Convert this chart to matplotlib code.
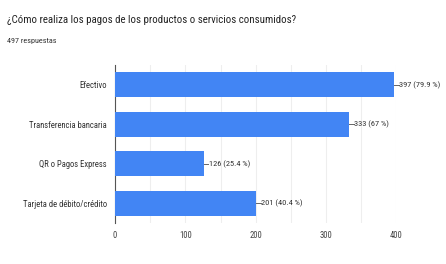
import matplotlib
matplotlib.use('Agg')
from matplotlib import pyplot as plt

plt.rcParams['font.family'] = ['Roboto Condensed', 'Archivo Narrow', 'DejaVu Sans']

# datos
categorias = ['Efectivo', 'Transferencia bancaria', 'QR o Pagos Express', 'Tarjeta de débito/crédito']
valores = [397, 333, 126, 201]
porcentajes = ['79.9', '67', '25.4', '40.4']
total = 497
ticks_x = [0, 100, 200, 300, 400]

fig = plt.figure(figsize=(4.46, 2.64), dpi=100)
ax = fig.add_axes([0.258, 0.155, 0.631, 0.599])

pos = list(range(len(categorias)))
ax.barh(pos, valores, height=0.625, color='#4285F4', zorder=3)

for p, v, pc in zip(pos, valores, porcentajes):
    ax.plot([v, v + 6], [p, p], color='#666666', lw=0.7, zorder=3, clip_on=False)
    ax.text(v + 7, p, f'{v} ({pc} %)', va='center', ha='left', fontsize=6,
            color='#333333', clip_on=False)

ax.set_xlim(0, 400)
ax.set_ylim(3.5, -0.5)
ax.set_yticks(pos)
ax.set_yticklabels(categorias, fontsize=6.2, color='#333333')
ax.set_xticks(ticks_x)
ax.set_xticklabels([str(t) for t in ticks_x], fontsize=6.2, color='#444444')
ax.set_xticks([50, 150, 250, 350], minor=True)
ax.grid(axis='x', which='both', color='#eeeeee', lw=0.8, zorder=0)
ax.tick_params(length=0, which='both')
ax.tick_params(axis='y', pad=6)
ax.tick_params(axis='x', pad=6)
for s in ['top', 'right', 'bottom']:
    ax.spines[s].set_visible(False)
ax.spines['left'].set_color('#555555')
ax.spines['left'].set_linewidth(0.8)

fig.text(0.016, 0.925, '¿Cómo realiza los pagos de los productos o servicios consumidos?',
         fontsize=7.8, color='#222222', va='center')
fig.text(0.016, 0.845, f'{total} respuestas', fontsize=5.9, color='#333333', va='center')

fig.savefig('out.png', dpi=100)
